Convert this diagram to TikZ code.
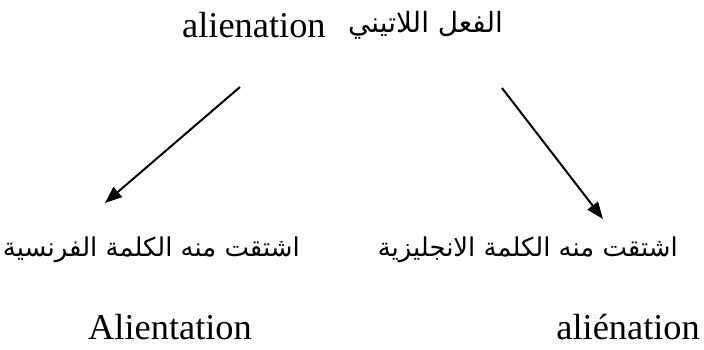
\documentclass[tikz,border=0pt]{standalone}
\usepackage{fontspec}
\setmainfont{Liberation Serif}
\newfontfamily\arabicfont[Script=Arabic]{DejaVu Sans}
\TeXXeTstate=1
\usetikzlibrary{arrows.meta}
\begin{document}
\begin{tikzpicture}[x=1bp,y=-1bp,
  lat/.style={font=\fontsize{36.5}{40}\selectfont, inner sep=0pt},
  ar/.style={font=\arabicfont\fontsize{26}{30}\selectfont, inner sep=0pt, anchor=base east},
  arr/.style={line width=2bp, -{Triangle[length=17bp,width=13bp]}}]
\useasboundingbox (0,0) rectangle (704,349);
\node[lat, anchor=base west] (lat) at (182,37) {alienation};
\node[ar, font=\arabicfont\fontsize{28}{32}\selectfont] (arlat) at (503,32) {\beginR الفعل اللاتيني\endR};
\node[ar] (fr) at (300,256) {\beginR اشتقت منه الكلمة الفرنسية\endR};
\node[ar] (en) at (678,256) {\beginR اشتقت منه الكلمة الانجليزية\endR};
\node[lat, anchor=base east] (frw) at (252,339) {Alientation};
\node[lat, anchor=base east] (enw) at (700,339) {aliénation};
\coordinate (s1) at (240,87);
\coordinate (t1) at (105,203);
\coordinate (s2) at (502,88);
\coordinate (t2) at (603,219);
\draw[arr] (s1) -- (t1);
\draw[arr] (s2) -- (t2);
\end{tikzpicture}
\end{document}
